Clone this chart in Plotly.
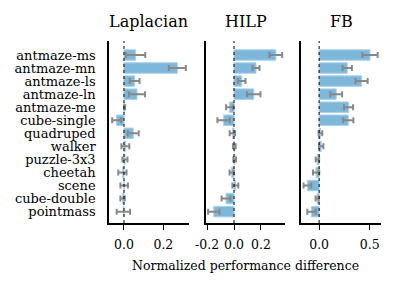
import plotly.graph_objects as go
from plotly.subplots import make_subplots

tasks = ["antmaze-ms", "antmaze-mn", "antmaze-ls", "antmaze-ln", "antmaze-me",
         "cube-single", "quadruped", "walker", "puzzle-3x3", "cheetah",
         "scene", "cube-double", "pointmass"]

lap_vals = [0.059, 0.271, 0.054, 0.066, 0.003, -0.037, 0.047, 0.007, 0.005, -0.008, 0.001, -0.007, -0.003]
lap_err = [0.049, 0.043, 0.025, 0.041, 0.003, 0.023, 0.028, 0.020, 0.013, 0.021, 0.019, 0.011, 0.034]

hilp_vals = [0.31, 0.163, 0.057, 0.146, -0.032, -0.077, -0.012, 0.002, 0.005, -0.017, 0.010, -0.059, -0.150]
hilp_err = [0.047, 0.026, 0.028, 0.050, 0.027, 0.046, 0.020, 0.010, 0.010, 0.016, 0.022, 0.033, 0.042]

fb_vals = [0.503, 0.278, 0.420, 0.169, 0.291, 0.288, 0.013, 0.020, -0.017, -0.030, -0.116, -0.020, -0.076]
fb_err = [0.076, 0.046, 0.060, 0.058, 0.045, 0.051, 0.018, 0.022, 0.017, 0.031, 0.038, 0.015, 0.041]

titles = ["Laplacian", "HILP", "FB"]
x_ranges = [[-0.076, 0.33], [-0.207, 0.378], [-0.179, 0.612]]
x_ticks = [[0.0, 0.2], [-0.2, 0.0, 0.2], [0.0, 0.5]]
x_ticktext = [["0.0", "0.2"], ["-0.2", "0.0", "0.2"], ["0.0", "0.5"]]

series = [(lap_vals, lap_err), (hilp_vals, hilp_err), (fb_vals, fb_err)]

FONT = "DejaVu Serif"

fig = make_subplots(rows=1, cols=3, horizontal_spacing=0.06)

for i, (vals, errs) in enumerate(series):
    fig.add_trace(go.Bar(
        x=vals, y=tasks, orientation="h",
        marker=dict(color="#7db7da", line=dict(color="#a9d0ea", width=1)),
        width=0.8,
        error_x=dict(type="data", array=errs, color="#888888", thickness=2, width=3),
        showlegend=False,
    ), row=1, col=i + 1)

domains = [[0.0, 0.294], [0.357, 0.647], [0.706, 1.0]]
for i in range(3):
    xa = "xaxis" if i == 0 else f"xaxis{i+1}"
    ya = "yaxis" if i == 0 else f"yaxis{i+1}"
    fig.layout[xa].update(
        domain=domains[i], range=x_ranges[i], tickvals=x_ticks[i], ticktext=x_ticktext[i],
        showline=True, linecolor="black", linewidth=1.5, ticks="outside", ticklen=5,
        tickwidth=1.2, tickcolor="black", showgrid=False, zeroline=False, automargin=False,
        ticklabelstandoff=4,
        tickfont=dict(family=FONT, size=12.5, color="black"),
    )
    fig.layout[ya].update(
        type="category", categoryorder="array", categoryarray=tasks,
        tickmode="array", tickvals=tasks, ticktext=tasks,
        range=[12.87, -1.07], showline=True, linecolor="black", linewidth=1.5,
        ticks="", showgrid=False, zeroline=False, showticklabels=(i == 0), automargin=False,
        ticklabelstandoff=9,
        tickfont=dict(family=FONT, size=13, color="black"),
    )
    xr = "x" if i == 0 else f"x{i+1}"
    yr = "y domain" if i == 0 else f"y{i+1} domain"
    fig.add_shape(type="line", xref=xr, yref=yr, x0=0, x1=0, y0=0, y1=1,
                  line=dict(color="black", width=1, dash="dot"), layer="above")
    fig.add_annotation(text=titles[i], xref="paper", yref="paper",
                       x=(domains[i][0] + domains[i][1]) / 2, y=1.0, yshift=8,
                       xanchor="center", yanchor="bottom", showarrow=False,
                       font=dict(family=FONT, size=16, color="black"))

fig.add_annotation(text="Normalized performance difference", xref="paper", yref="paper",
                   x=0.5, y=0, yshift=-33, xanchor="center", yanchor="top", showarrow=False,
                   font=dict(family=FONT, size=12.5, color="black"))

fig.update_layout(
    width=388, height=279,
    margin=dict(l=101, r=15, t=33, b=64, autoexpand=False),
    plot_bgcolor="white", paper_bgcolor="white",
    bargap=0.2,
)

fig.write_html("out.html")
